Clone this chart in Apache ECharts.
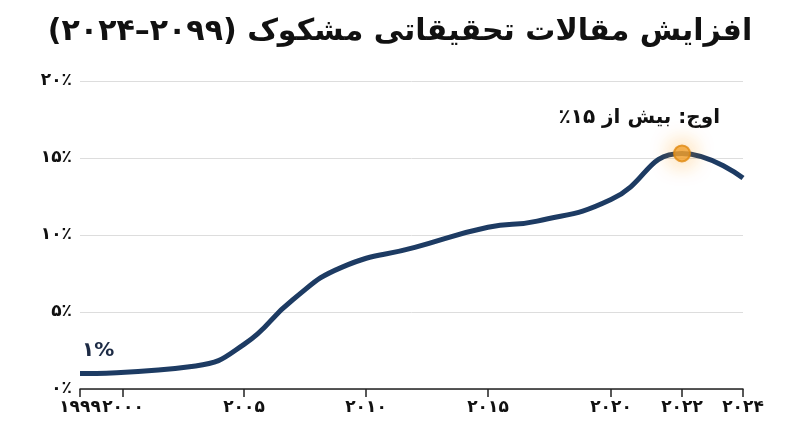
<!DOCTYPE html>
<html><head><meta charset="utf-8">
<script src="https://cdn.jsdelivr.net/npm/echarts@6/dist/echarts.min.js"></script>
<style>html,body{margin:0;background:#fff}#c{width:800px;height:447px}</style>
</head><body><div id="c"></div>
<script>
const title = 'افزایش مقالات تحقیقاتی مشکوک (۲۰۹۹–۲۰۲۴)';
const tickYears = [1999, 2000, 2005, 2010, 2015, 2020, 2022, 2024];
const tickLabels = ['۱۹۹۹', '۲۰۰۰', '۲۰۰۵', '۲۰۱۰', '۲۰۱۵', '۲۰۲۰', '۲۰۲۲', '۲۰۲۴'];
const tickAxisPos = [0, 43, 164, 286, 408, 531, 602, 663];
const years = [1999, 2003, 2005, 2007, 2009, 2012, 2015, 2017, 2020, 2022, 2024];
const values = [1.0, 1.5, 2.9, 5.8, 7.9, 9.2, 10.5, 10.9, 12.3, 15.3, 13.7];
const yTicks = ['۰٪', '۵٪', '۱۰٪', '۱۵٪', '۲۰٪'];
const peakYear = 2022, peakValue = 15.3;

function pos(y){
  for (let i=0;i<tickYears.length-1;i++){
    if (y<=tickYears[i+1]){const t=(y-tickYears[i])/(tickYears[i+1]-tickYears[i]);return tickAxisPos[i]+t*(tickAxisPos[i+1]-tickAxisPos[i]);}
  }
  return tickAxisPos[tickAxisPos.length-1];
}
const F = 'DejaVu Sans';
const chart = echarts.init(document.getElementById('c'));
chart.setOption({
  animation:false,
  title:{text:title,left:'center',top:12,textStyle:{fontFamily:F,fontWeight:'bold',fontSize:30,color:'#111'}},
  grid:{left:80,right:57,top:81,bottom:58},
  xAxis:{type:'value',min:0,max:663,
    axisLine:{lineStyle:{color:'#222',width:1.5}},
    axisTick:{show:true,length:8,lineStyle:{color:'#222',width:1.5},customValues:tickAxisPos},
    axisLabel:{customValues:tickAxisPos,formatter:v=>tickLabels[tickAxisPos.indexOf(v)]||'',fontFamily:F,fontWeight:'bold',fontSize:17,color:'#111',margin:10},
    splitLine:{show:false}},
  yAxis:{type:'value',min:0,max:20,interval:5,
    axisLine:{show:false},axisTick:{show:false},
    axisLabel:{formatter:v=>yTicks[v/5],fontFamily:F,fontWeight:'bold',fontSize:17,color:'#111',margin:8},
    splitLine:{lineStyle:{color:'#ddd'}}},
  series:[
    {type:'line',smooth:0.5,symbol:'none',data:years.map((y,i)=>[pos(y),values[i]]),
     lineStyle:{color:'#1d3b63',width:5}},
    {type:'scatter',data:[[pos(peakYear),peakValue]],symbolSize:16,
     itemStyle:{color:'#f0a030',borderColor:'#e08a10',borderWidth:2,shadowColor:'rgba(255,160,30,0.9)',shadowBlur:22},z:5}
  ],
  graphic:[
    {type:'text',right:80,top:108,style:{text:'\u202Bاوج: بیش از ۱۵٪\u202C',font:'bold 20px "DejaVu Sans"',fill:'#111'}},
    {type:'text',left:82,top:341,style:{text:'۱%',font:'bold 20px "DejaVu Sans"',fill:'#1d2b45'}}
  ]
});
</script></body></html>
